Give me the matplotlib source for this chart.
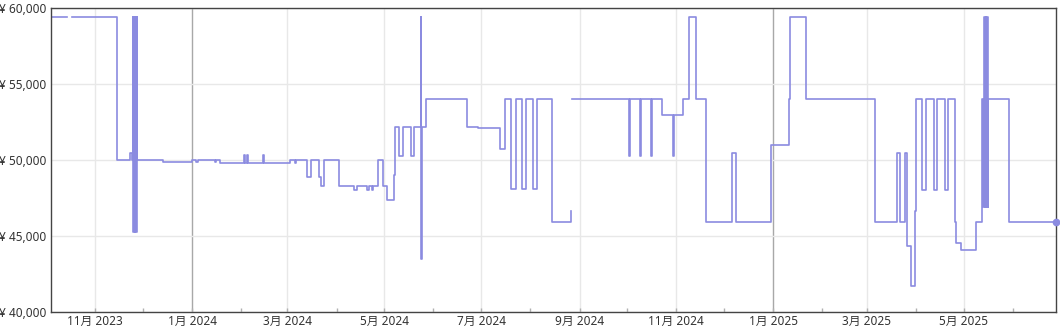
import numpy as np
import pandas as pd
import matplotlib
matplotlib.use("Agg")
import matplotlib.pyplot as plt
import matplotlib.dates as mdates
from matplotlib.ticker import FuncFormatter

plt.rcParams['font.family'] = ['Noto Sans', 'Noto Sans CJK JP', 'DejaVu Sans']

nan = np.nan

# price history (step changes)
dates = [
    "2023-10-04", "2023-10-14", "2023-10-17", "2023-11-14 10:00", "2023-11-22 14:00",
    "2023-11-24", "2023-11-24 12:00", "2023-11-24 22:00", "2023-11-25 08:00",
    "2023-11-25 18:00", "2023-11-26 04:00", "2023-11-26 14:00", "2023-11-27 00:00",
    "2023-11-27 08:00", "2023-11-27 12:00", "2023-12-13 10:00", "2024-01-01",
    "2024-01-03 10:00", "2024-01-04 16:00", "2024-01-15 10:00", "2024-01-16 06:00",
    "2024-01-18 06:00", "2024-02-02 18:00", "2024-02-03 12:00", "2024-02-04 12:00",
    "2024-02-05 06:00", "2024-02-14 18:00", "2024-02-15 06:00", "2024-03-02 18:00",
    "2024-03-05 12:00", "2024-03-06 12:00", "2024-03-13 08:00", "2024-03-16",
    "2024-03-21", "2024-03-22", "2024-03-24 06:00", "2024-04-02 06:00",
    "2024-04-12", "2024-04-14", "2024-04-20", "2024-04-21 12:00", "2024-04-23 06:00",
    "2024-04-24", "2024-04-26 18:00", "2024-04-29 22:00", "2024-05-02 14:00",
    "2024-05-07 06:00", "2024-05-07 18:00", "2024-05-10 14:00", "2024-05-13",
    "2024-05-17 16:00", "2024-05-20", "2024-05-24", "2024-05-24 06:00",
    "2024-05-24 12:00", "2024-05-27 14:00", "2024-06-22", "2024-06-29",
    "2024-07-12 22:00", "2024-07-16", "2024-07-19 22:00", "2024-07-22 20:00",
    "2024-07-26 20:00", "2024-07-29 08:00", "2024-08-02 12:00", "2024-08-05 10:00",
    "2024-08-14 12:00", "2024-08-26 10:00", "2024-08-26 20:00", "2024-08-27 02:00",
    "2024-10-02 06:00", "2024-10-02 18:00", "2024-10-09 02:00", "2024-10-09 14:00",
    "2024-10-16", "2024-10-16 12:00", "2024-10-22 16:00", "2024-10-30",
    "2024-10-30 12:00", "2024-11-05", "2024-11-09", "2024-11-13 10:00",
    "2024-11-19 16:00", "2024-12-06", "2024-12-08 08:00", "2024-12-30 12:00",
    "2025-01-11", "2025-01-11 10:00", "2025-01-21 16:00", "2025-03-06",
    "2025-03-20", "2025-03-21 16:00", "2025-03-24 22:00", "2025-03-26",
    "2025-03-29", "2025-03-31 14:00", "2025-04-01 06:00", "2025-04-04 20:00",
    "2025-04-07 12:00", "2025-04-12", "2025-04-14 12:00", "2025-04-19",
    "2025-04-21 10:00", "2025-04-25 10:00", "2025-04-26", "2025-04-29",
    "2025-05-09", "2025-05-12 14:00", "2025-05-12 22:00", "2025-05-14",
    "2025-05-14 10:00", "2025-05-14 20:00", "2025-05-15 06:00", "2025-05-15 16:00",
    "2025-05-16 02:00", "2025-05-16 08:00", "2025-05-29 10:00", "2025-06-28",
]
prices = [
    59400, nan, 59400, 49980, 50480,
    49980, 59400, 45250, 59400,
    45250, 59400, 45250, 59400,
    45250, 49980, 49880, 49980,
    49880, 49980, 49880, 49980,
    49780, 50300, 49780, 50300,
    49780, 50300, 49780, 49980,
    49780, 49980, 48860, 49980,
    48900, 48300, 49980, 48300,
    48000, 48300, 48000, 48300, 48000,
    48300, 49980, 48300, 47350,
    48980, 52170, 50280, 52170,
    50280, 52170, 59400, 43470,
    52170, 53980, 52170, 52100,
    50700, 53980, 48100, 53980,
    48100, 53980, 48100, 53980,
    45940, 46620, nan, 53980,
    50270, 53980, 50270, 53980,
    50270, 53980, 52940, 50270,
    52940, 53980, 59400, 53980,
    45940, 50480, 45940, 50990,
    53980, 59400, 53980, 45940,
    50480, 45940, 50480, 44360,
    41670, 46640, 53980, 48010,
    53980, 48010, 53980, 48010,
    53980, 45940, 44540, 44080,
    45940, 53980, 46930, 59400,
    46930, 59400, 46930, 59400,
    46930, 53980, 45940, 45940,
]

x_start, x_end = "2023-10-04", "2025-06-28"
y_ticks = [40000, 45000, 50000, 55000, 60000]

line_color = '#8b8be0'

x = pd.to_datetime(dates, format='mixed')

fig = plt.figure(figsize=(10.6, 3.3), dpi=100)
ax = fig.add_axes([0.048, 0.055, 0.948, 0.921])

ax.step(x, prices, where='post', color=line_color, lw=1.2)
ax.plot(x[-1], prices[-1], 'o', color=line_color, ms=4.5, clip_on=False, zorder=5)

ax.set_xlim(pd.Timestamp(x_start), pd.Timestamp(x_end))
ax.set_ylim(y_ticks[0], y_ticks[-1])
ax.set_yticks(y_ticks)
ax.yaxis.set_major_formatter(FuncFormatter(lambda v, p: f"¥ {int(v):,}"))

ax.xaxis.set_major_locator(mdates.MonthLocator(bymonth=[1, 3, 5, 7, 9, 11]))
ax.xaxis.set_minor_locator(mdates.MonthLocator())
ax.xaxis.set_major_formatter(FuncFormatter(
    lambda v, p: f"{mdates.num2date(v).month}月 {mdates.num2date(v).year}"))

ax.grid(True, which='major', color='#e8e8e8', lw=1)
ax.set_axisbelow(True)

locs = ax.get_xticks()
for loc, t in zip(locs, ax.xaxis.get_major_ticks(len(locs))):
    if mdates.num2date(loc).month == 1:
        t.gridline.set_color('#a8a8a8')

ax.tick_params(axis='y', length=0, pad=3, labelsize=8.5, labelcolor='#333333')
ax.tick_params(axis='x', which='both', direction='in', length=3, width=1,
               color='#b0b0b0', labelsize=8.5, labelcolor='#333333', pad=2)

for s in ax.spines.values():
    s.set_color('#444444')
    s.set_linewidth(1)

plt.savefig('out.png', dpi=100)
